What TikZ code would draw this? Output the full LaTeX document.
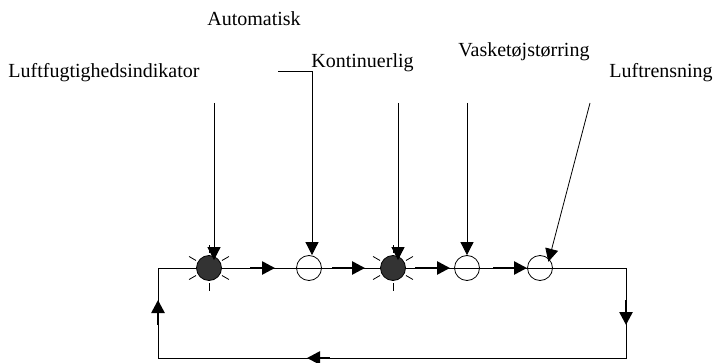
\documentclass[tikz,border=0pt]{standalone}
\usepackage{fontspec}
\setmainfont{Liberation Serif}
\usetikzlibrary{arrows.meta}
\begin{document}
\begin{tikzpicture}[x=1pt,y=-1pt,line width=0.8pt,
    lamp/.style={circle,draw,minimum size=25pt,inner sep=0pt},
    lit/.style={lamp,fill=black!80},
    feed/.style={-{Triangle[length=13pt,width=13pt]}},
    flow/.style={line width=2.6pt,-{Triangle[length=13pt,width=13pt]}},
    tag/.style={anchor=base west,inner sep=0pt,font=\fontsize{20}{24}\selectfont}]
  \useasboundingbox (0,0) rectangle (714,363);

  % the loop
  \coordinate (tl) at (158,268);
  \coordinate (tr) at (626,268);
  \coordinate (br) at (626,358);
  \coordinate (bl) at (158,358);
  \draw (tl) -- (tr) -- (br) -- (bl) -- cycle;

  \node (humid)   at (209,268) [lit]  {};
  \node (auto)    at (309,268) [lamp] {};
  \node (cont)    at (393,268) [lit]  {};
  \node (laundry) at (467,268) [lamp] {};
  \node (purify)  at (540,268) [lamp] {};

  \foreach \n in {humid,cont}
    \foreach \a in {30,90,150,210,270,330}
      \draw (\n.center) ++(\a:15) -- ++(\a:8);

  % flow along the loop
  \foreach \s/\e in {250/275,332/365,415/450,493/527}
    \draw[flow] (\s,268) -- (\e,268);
  \draw[flow] (626,300) -- (626,325);
  \draw[flow] (330,358) -- (307,358);
  \draw[flow] (158,325) -- (158,300);

  % labels
  \node (humid-txt)   at (8,78)   [tag] {Luftfugtighedsindikator};
  \node (auto-txt)    at (207,26) [tag] {Automatisk};
  \node (cont-txt)    at (311,68) [tag] {Kontinuerlig};
  \node (laundry-txt) at (458,57) [tag] {Vasketøjstørring};
  \node (purify-txt)  at (609,78) [tag] {Luftrensning};

  \coordinate (humid-in)   at (214,103);
  \coordinate (auto-in)    at (278,71);
  \coordinate (cont-in)    at (398,103);
  \coordinate (laundry-in) at (467,103);
  \coordinate (purify-in)  at (590,103);

  \draw[feed,shorten >=-5pt] (humid-in) -- (humid-in |- humid.north);
  \draw[feed] (auto-in) -| ([xshift=3pt]auto.north);
  \draw[feed,shorten >=-5pt] (cont-in) -- (cont-in |- cont.north);
  \draw[feed] (laundry-in) -- (laundry-in |- laundry.north);
  \draw[feed,shorten >=-3pt] (purify-in) -- (purify.north east);
\end{tikzpicture}
\end{document}
